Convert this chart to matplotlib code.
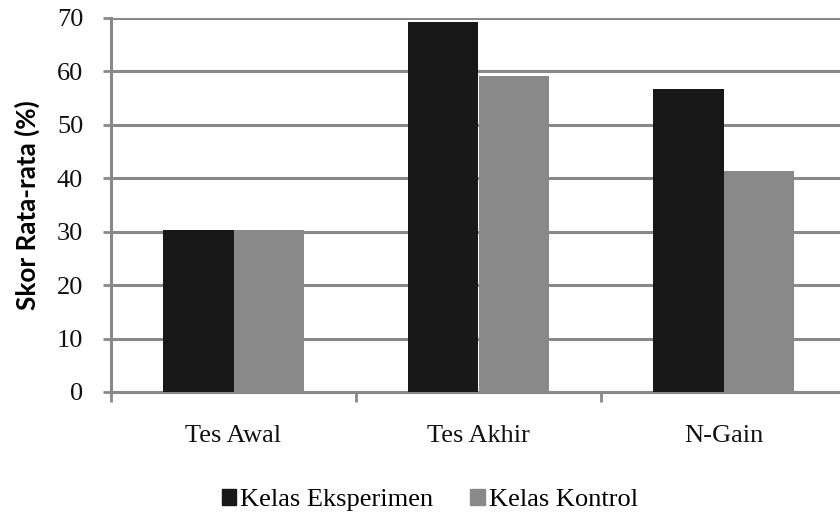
import matplotlib
matplotlib.use("Agg")
import matplotlib.pyplot as plt
from matplotlib.patches import Patch
import numpy as np

categories = ["Tes Awal", "Tes Akhir", "N-Gain"]
series_names = ["Kelas Eksperimen", "Kelas Kontrol"]
eksperimen = [30.3, 69.3, 56.7]
kontrol = [30.4, 59.2, 41.3]
yticks = [0, 10, 20, 30, 40, 50, 60, 70]

colors = ["#181818", "#898989"]
grid_c = "#898989"

fig = plt.figure(figsize=(8.4, 5.2), dpi=100)
ax = fig.add_axes([111/840, (520-392)/520, 735/840, 374/520])

x = np.arange(len(categories))
w = 0.286
ax.bar(x - w/2, eksperimen, width=w, color=colors[0], zorder=3)
ax.bar(x + w/2, kontrol, width=w, color=colors[1], zorder=3)

ax.set_xlim(-0.5, 2.5)
ax.set_ylim(0, 70)
ax.set_yticks(yticks)
ax.yaxis.grid(True, color=grid_c, linewidth=2.2, zorder=0)
ax.set_axisbelow(True)

for s in ["top", "right"]:
    ax.spines[s].set_visible(False)
ax.spines["left"].set_color(grid_c)
ax.spines["left"].set_linewidth(2.2)
ax.spines["bottom"].set_color(grid_c)
ax.spines["bottom"].set_linewidth(2.2)

ax.set_xticks([-0.5, 0.5, 1.5], minor=False)
ax.set_xticklabels([])
ax.set_xticks(x, minor=True)
ax.set_xticklabels(categories, minor=True)
ax.tick_params(axis="x", which="major", length=7, width=2, color=grid_c, direction="out")
ax.tick_params(axis="x", which="minor", length=0, pad=24)
ax.tick_params(axis="y", length=6, width=2, color=grid_c, pad=14)

serif = ["Liberation Serif", "DejaVu Serif"]
for lab in ax.get_yticklabels() + ax.get_xticklabels(minor=True):
    lab.set_fontfamily(serif)
    lab.set_fontsize(19)
    lab.set_color("#111111")

ax.set_ylabel("Skor Rata-rata (%)", fontfamily=["Lato", "DejaVu Sans"],
              fontweight="bold", fontsize=18.8, labelpad=12)

handles = [Patch(color=colors[0]), Patch(color=colors[1])]
fig.legend(handles, series_names, loc="center", bbox_to_anchor=(430/840, (520-500)/520),
           ncol=2, frameon=False, prop={"family": serif, "size": 19},
           handlelength=0.55, handleheight=0.55, handletextpad=0.15, columnspacing=1.4)

fig.savefig("out.png", dpi=100)
